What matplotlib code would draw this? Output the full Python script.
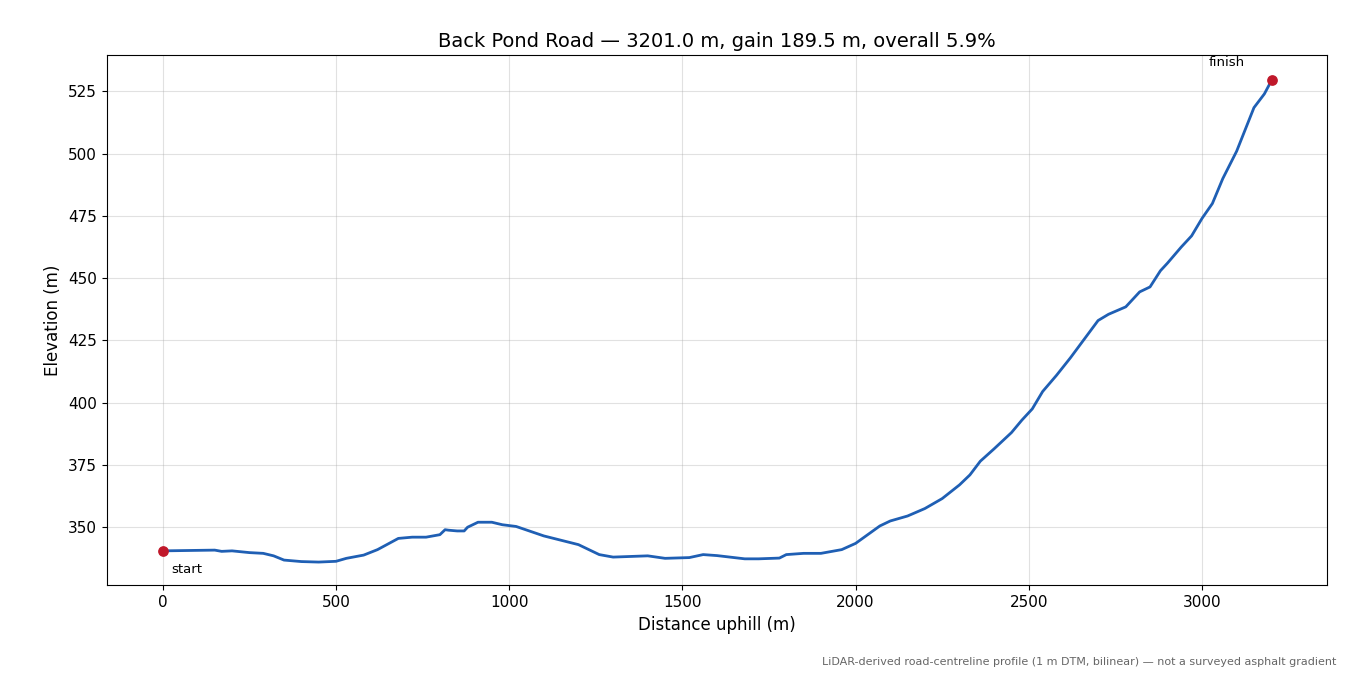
import numpy as np
import matplotlib.pyplot as plt

# profile (distance m, elevation m)
dist = [0, 100, 150, 170, 200, 250, 290, 320, 350, 400, 450, 500, 530, 580, 620, 680,
        720, 760, 800, 815, 825, 850, 870, 880, 910, 950, 980, 1020, 1100, 1200, 1260,
        1300, 1400, 1450, 1520, 1560, 1600, 1680, 1720, 1780, 1800, 1850, 1900, 1960,
        2000, 2040, 2070, 2100, 2150, 2200, 2250, 2300, 2330, 2360, 2400, 2450, 2480,
        2510, 2540, 2580, 2620, 2660, 2700, 2730, 2780, 2820, 2850, 2880, 2900, 2940,
        2970, 3000, 3030, 3060, 3100, 3120, 3150, 3180, 3201]
elev = [340.5, 340.7, 340.8, 340.3, 340.5, 339.8, 339.5, 338.5, 336.8, 336.2, 336.0,
        336.3, 337.5, 338.8, 341.0, 345.5, 346.0, 346.0, 347.0, 349.0, 348.8, 348.5,
        348.5, 350.0, 352.0, 352.0, 351.0, 350.3, 346.5, 343.0, 339.0, 338.0, 338.5,
        337.5, 337.8, 339.0, 338.6, 337.3, 337.3, 337.6, 339.0, 339.5, 339.5, 341.0,
        343.5, 347.5, 350.5, 352.5, 354.5, 357.5, 361.5, 367.0, 371.0, 376.5, 381.5,
        388.0, 393.0, 397.5, 404.5, 411.0, 418.0, 425.5, 433.0, 435.5, 438.5, 444.5,
        446.5, 453.0, 456.0, 462.5, 467.0, 474.0, 480.0, 490.0, 501.0, 508.0, 518.5,
        524.0, 529.5]

title = "Back Pond Road \u2014 3201.0 m, gain 189.5 m, overall 5.9%"
note = "LiDAR-derived road-centreline profile (1 m DTM, bilinear) \u2014 not a surveyed asphalt gradient"

fig, ax = plt.subplots(figsize=(13.5, 6.75), dpi=100)
fig.subplots_adjust(left=0.079, right=0.983, top=0.918, bottom=0.133)

ax.plot(dist, elev, color="#1f5fb4", lw=2)
ax.scatter([dist[0], dist[-1]], [elev[0], elev[-1]], color="#c0182a", s=45, zorder=3)
ax.annotate("start", (dist[0], elev[0]), xytext=(6, -16), textcoords="offset points", fontsize=9.5)
ax.annotate("finish", (dist[-1], elev[-1]), xytext=(-45, 10), textcoords="offset points", fontsize=9.5)

ax.set_xlim(-162, 3361)
ax.set_ylim(326.7, 539.5)
ax.set_xlabel("Distance uphill (m)", fontsize=12)
ax.set_ylabel("Elevation (m)", fontsize=12)
ax.set_title(title, fontsize=14)
ax.tick_params(labelsize=11)
ax.grid(alpha=0.35, color="#aaaaaa")

fig.text(0.99, 0.012, note, ha="right", va="bottom", fontsize=8, color="#666666")

fig.savefig("out.png")
